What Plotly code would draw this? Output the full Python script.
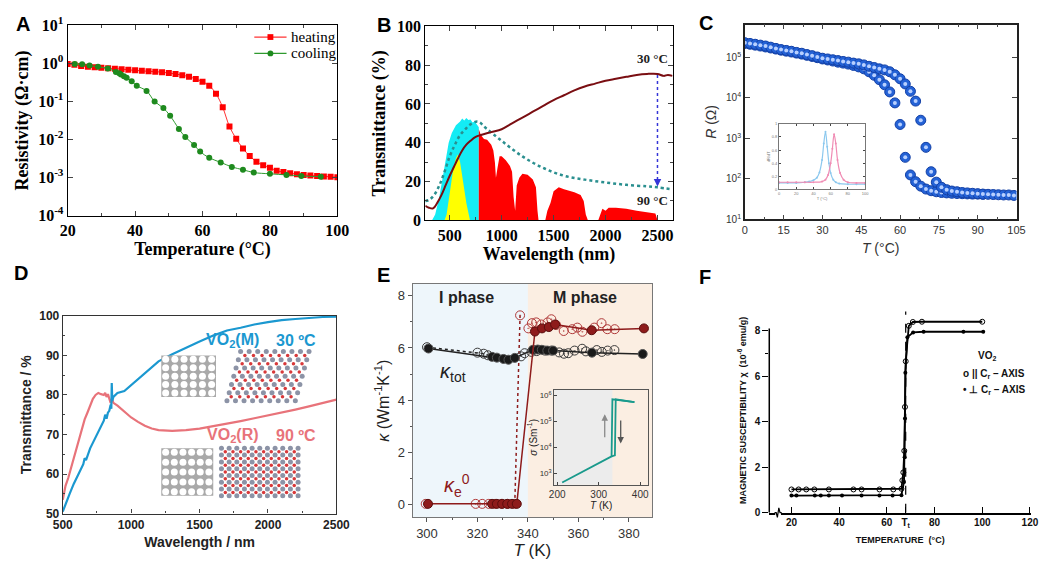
import plotly.graph_objects as go

W, H = 1052, 566


def px(x):
    return x / W


def py(y):
    return 1 - y / H


SERIF = "Liberation Serif"
SANS = "Liberation Sans"

# ---------------- A: resistivity vs temperature
a_T_heat = [20, 22, 24, 26, 28, 30, 32, 34, 36, 38, 40, 42, 44, 46, 48, 50, 52, 54, 56, 58,
            60, 62, 64, 66, 68, 70, 72, 74, 76, 78, 80, 82, 84, 86, 88, 90, 92, 94, 96, 98, 100]
a_rho_heat = [0.97, 0.92, 0.86, 0.82, 0.79, 0.77, 0.75, 0.73, 0.71, 0.68, 0.66, 0.64, 0.62, 0.61,
              0.59, 0.56, 0.53, 0.49, 0.45, 0.39, 0.33, 0.26, 0.16, 0.07, 0.022, 0.0105, 0.0058,
              0.0037, 0.0026, 0.0021, 0.0018, 0.0015, 0.0014, 0.0013, 0.00122, 0.00117, 0.00113,
              0.0011, 0.00107, 0.00104, 0.00102]
a_T_cool = [22.1, 24.3, 26.5, 29, 31.9, 34.3, 35.3, 35.8, 36.7, 37.5, 39, 40.5, 43.4, 45.8, 48.4,
            50.4, 53, 54.9, 57.5, 59.3, 62, 65.4, 68.7, 72, 75.2, 80, 84.9, 89.3, 95.1]
a_rho_cool = [0.97, 0.95, 0.88, 0.82, 0.74, 0.6, 0.55, 0.51, 0.46, 0.42, 0.34, 0.26, 0.19, 0.10,
              0.067, 0.042, 0.019, 0.0116, 0.0072, 0.0048, 0.0033, 0.0025, 0.0019, 0.0016,
              0.00135, 0.00125, 0.00117, 0.0011, 0.00105]
a_names = ["heating", "cooling"]

# ---------------- B: transmittance spectra + solar spectrum
b_wl_30 = [265, 300, 340, 380, 420, 460, 500, 540, 580, 620, 660, 700, 750, 800, 900, 1000, 1100,
           1200, 1300, 1400, 1500, 1600, 1700, 1800, 1900, 2000, 2100, 2200, 2300, 2400, 2500,
           2560, 2600, 2645]
b_T30 = [7.5, 6.5, 6.2, 9, 13, 18, 23, 27.5, 32, 36, 39, 41, 43, 44, 45.5, 47, 50, 53, 56, 59, 62,
         64.5, 67, 69, 70.5, 72, 73, 74, 75, 75.5, 75.5, 74.5, 75, 74.5]
b_wl_90 = [265, 300, 350, 400, 450, 500, 550, 600, 650, 700, 770, 850, 1000, 1200, 1400, 1600,
           1800, 2000, 2200, 2400, 2500, 2645]
b_T90 = [10, 10.5, 13, 18, 25, 33, 39, 44, 47, 49.5, 51, 47.5, 41, 33, 27, 23, 21, 19.5, 18.3,
         17.5, 17, 16]
b_wl_vis = [330, 360, 400, 430, 460, 490, 520, 560, 600, 620, 640, 660, 680, 700, 720, 740, 760, 780]
b_vis = [0, 3, 12, 22, 32, 40, 45, 49, 51, 52.5, 51.5, 52.8, 51.8, 52, 50.5, 51, 49.5, 48]
b_wl_lum = [450, 470, 500, 530, 560, 578, 600, 620, 640, 660, 680, 695]
b_lum = [0, 3, 14, 25, 32, 34, 30, 24, 16, 9, 3, 0]
b_wl_nir = [780, 800, 830, 860, 900, 920, 935, 945, 960, 980, 1000, 1040, 1080, 1100, 1115, 1130,
            1145, 1170, 1200, 1250, 1300, 1330, 1345, 1355, 1420, 1440, 1470, 1500, 1550, 1600,
            1700, 1760, 1790, 1810, 1830, 1930, 1950, 1970, 2000, 2030, 2100, 2200, 2300, 2400,
            2480, 2500]
b_nir = [47, 44, 42, 41.5, 39, 36, 30, 22, 27, 33, 33, 31, 28, 25, 12, 5, 18, 22, 24, 23.5, 21, 17,
         5, 0, 0, 5, 9, 15, 17, 16, 14.5, 13, 10, 3, 0, 0, 3, 6, 5, 6.5, 6.5, 6, 5, 4, 3.5, 0]

# ---------------- C: resistance hysteresis
c_T_heat = [0, 2, 4, 6, 8, 10, 12, 14, 16, 18, 20, 22, 24, 26, 28, 30, 32, 34, 36, 38, 40, 42, 44,
            46, 48, 50, 52, 54, 56, 58, 60, 62, 64, 66, 68, 70, 72, 74, 76, 78, 80, 82, 84, 86, 88,
            90, 92, 94, 96, 98, 100, 102, 104]
c_R_heat = [2.3e5, 2.2e5, 2.1e5, 2.0e5, 1.9e5, 1.78e5, 1.66e5, 1.55e5, 1.48e5, 1.41e5, 1.32e5,
            1.26e5, 1.17e5, 1.1e5, 1.02e5, 9.5e4, 9.1e4, 8.7e4, 8.3e4, 7.9e4, 7.6e4, 7.2e4, 6.9e4,
            6.5e4, 6.0e4, 5.6e4, 5.2e4, 4.9e4, 4.4e4, 3.7e4, 2.95e4, 2.2e4, 1.45e4, 8.3e3, 2.8e3,
            6.0e2, 1.5e2, 83, 62, 54, 50, 48, 46, 45, 44, 43, 42, 41.5, 41, 40.5, 40, 40, 39]
c_T_cool = [0, 2, 4, 6, 8, 10, 12, 14, 16, 18, 20, 22, 24, 26, 28, 30, 32, 34, 36, 38, 40, 42, 44,
            46, 48, 50, 52, 54, 56, 58, 60, 62, 64, 66, 68, 70, 72, 74, 76, 78, 80, 82, 84, 86, 88,
            90, 92]
c_R_cool = [2.2e5, 2.1e5, 2.0e5, 1.9e5, 1.8e5, 1.7e5, 1.6e5, 1.5e5, 1.42e5, 1.35e5, 1.27e5, 1.2e5,
            1.12e5, 1.05e5, 9.8e4, 9.1e4, 8.6e4, 8.1e4, 7.6e4, 7.2e4, 6.8e4, 6.3e4, 5.8e4, 5.2e4,
            4.4e4, 3.6e4, 2.8e4, 2.1e4, 1.4e4, 7.5e3, 2.2e3, 3.4e2, 1.25e2, 85, 66, 56, 51, 48, 46,
            45, 44, 43.5, 43, 42.5, 42, 42, 41.5]
# inset (derivative peaks)
ci_T_blue = [0, 10, 20, 30, 35, 40, 44, 47, 50, 52, 54, 56, 58, 60, 63, 66, 70, 80, 90, 100]
ci_blue = [0.10, 0.10, 0.10, 0.11, 0.12, 0.14, 0.18, 0.26, 0.45, 0.70, 0.88, 0.65, 0.40, 0.25,
           0.15, 0.11, 0.09, 0.08, 0.08, 0.08]
ci_T_pink = [0, 10, 20, 30, 40, 50, 54, 57, 60, 62, 64, 66, 68, 71, 75, 80, 90, 100]
ci_pink = [0.11, 0.11, 0.11, 0.11, 0.11, 0.12, 0.15, 0.22, 0.40, 0.62, 0.84, 0.70, 0.45, 0.25,
           0.15, 0.11, 0.10, 0.10]

# ---------------- D: VO2(M) / VO2(R) transmittance
d_wl_m = [500, 520, 550, 580, 600, 630, 650, 660, 670, 700, 730, 760, 780, 800, 810, 820, 830, 840,
          850, 855, 858, 862, 870, 900, 950, 1000, 1100, 1200, 1300, 1400, 1500, 1600, 1700, 1800,
          1900, 2000, 2100, 2200, 2300, 2400, 2500]
d_m = [50.5, 52.5, 55, 57.5, 59, 61, 62.5, 64, 63.5, 66.5, 68.5, 70.5, 72, 73.5, 75, 74, 75.5, 76,
       77.5, 76.5, 83, 78.5, 79.5, 80.5, 81, 82.5, 85.5, 88.5, 90.3, 92, 93.5, 95, 96.3, 97, 97.8,
       98.4, 98.9, 99.2, 99.5, 99.7, 99.8]
d_wl_r = [500, 520, 540, 560, 580, 600, 620, 640, 660, 680, 700, 720, 740, 760, 780, 800, 810, 820,
          830, 840, 850, 860, 870, 900, 950, 1000, 1050, 1100, 1150, 1200, 1300, 1400, 1500, 1600,
          1700, 1800, 1900, 2000, 2100, 2200, 2300, 2400, 2500]
d_r = [53.5, 57, 59, 61.5, 64, 66.5, 69, 72, 73.8, 75.5, 77.5, 79, 80, 80.5, 80.2, 80, 80.5, 79.5,
       80.2, 79, 78, 79, 78, 77.3, 75.9, 74.3, 73.2, 72.2, 71.5, 71.1, 70.9, 71.1, 71.5, 72.1, 72.7,
       73.4, 74.1, 74.8, 75.5, 76.3, 77.1, 78, 78.8]

# ---------------- E: thermal conductivity
e_T_tot = [300.6, 325.8, 327.7, 330.3, 332.3, 334.8, 342, 343.9, 345.5, 347.7, 350, 365.4, 385.5]
e_tot = [5.98, 5.66, 5.63, 5.58, 5.55, 5.62, 5.93, 5.94, 5.93, 5.9, 5.9, 5.82, 5.77]
e_T_tot_o = [300, 320, 322.5, 324.2, 337.3, 338.7, 341.4, 343.5, 346.7, 349.3, 352.4, 354.3, 356,
             358.5, 361.5, 363, 367.3, 369.3, 371.6, 374.3]
e_tot_o = [6.03, 5.82, 5.78, 5.72, 5.68, 5.8, 5.85, 5.88, 5.9, 5.9, 5.83, 5.78, 5.8, 5.9, 5.97,
           5.87, 5.92, 5.85, 5.9, 5.92]
e_T_el = [300.4, 325.8, 327.7, 329.8, 331.8, 333.7, 335.6, 342.8, 345.6, 348.3, 350.8, 365.3, 386]
e_el = [0.03, 0.03, 0.03, 0.03, 0.03, 0.03, 0.03, 6.63, 6.75, 6.8, 6.9, 6.68, 6.75]
e_T_el_o = [299.5, 319.3, 321.9, 324.5, 327, 329.5, 332, 334.8, 336.9, 340.2, 341.6, 343.3, 345.3,
            347.8, 349.3, 351.2, 354.2, 357.6, 359.6, 361.6, 366.3, 369.2, 371.5, 374.4]
e_el_o = [0.03, 0.03, 0.03, 0.03, 0.03, 0.03, 0.03, 0.03, 7.25, 6.75, 6.95, 6.98, 6.9, 6.98, 7.1,
          6.88, 6.65, 6.72, 6.78, 6.62, 6.78, 6.95, 6.72, 6.72]
# inset conductivity
ei_T_heat = [212, 331, 333, 386]
ei_s_heat = [4.6e2, 4.6e3, 7.0e5, 5.5e5]
ei_T_cool = [386, 341, 339, 331]
ei_s_cool = [5.5e5, 7.0e5, 5.0e3, 4.6e3]

# ---------------- F: magnetic susceptibility
f_T_par = [20, 23, 26.2, 29.6, 35.7, 46, 49.4, 56.9, 62.7, 66.1, 66.5, 66.9, 67.3, 67.6, 67.9, 69.2,
           70.9, 74.7, 100]
f_par = [1.02, 1.02, 1.02, 1.02, 1.02, 1.02, 1.02, 1.02, 1.02, 1.05, 1.42, 1.77, 2.72, 4.65, 6.66,
         8.22, 8.39, 8.4, 8.4]
f_T_perp = [20, 22.1, 29.8, 32.3, 35.7, 41.2, 49.4, 56.9, 62.4, 66.1, 67.2, 67.45, 67.6, 67.75,
            68.6, 71.0, 75.4, 92.1, 100.4]
f_perp = [0.75, 0.75, 0.75, 0.75, 0.75, 0.75, 0.75, 0.75, 0.75, 0.77, 1.35, 2.44, 4.14, 6.16, 7.72,
          7.93, 7.96, 7.96, 7.96]
f_Tt = 67.9

fig = go.Figure()

# ---- A traces
fig.add_trace(go.Scatter(x=a_T_heat, y=a_rho_heat, name=a_names[0], mode="lines+markers",
                         showlegend=False, line=dict(color="#ff3333", width=1, shape="spline"),
                         marker=dict(symbol="square", size=6, color="#ff0000"),
                         xaxis="x", yaxis="y"))
fig.add_trace(go.Scatter(x=a_T_cool, y=a_rho_cool, name=a_names[1], mode="lines+markers",
                         showlegend=False, line=dict(color="#2f9a2f", width=1, shape="spline"),
                         marker=dict(symbol="circle", size=6, color="#1e8a1e"),
                         xaxis="x", yaxis="y"))

# ---- B traces
fill_kw = dict(mode="lines", fill="tozeroy", line=dict(width=0), showlegend=False,
               xaxis="x2", yaxis="y2")
fig.add_trace(go.Scatter(x=b_wl_vis, y=b_vis, fillcolor="#14ecf4", **fill_kw))
fig.add_trace(go.Scatter(x=b_wl_lum, y=b_lum, fillcolor="#ffff00", **fill_kw))
fig.add_trace(go.Scatter(x=b_wl_nir, y=b_nir, fillcolor="#ff0000", **fill_kw))
fig.add_trace(go.Scatter(x=b_wl_90, y=b_T90, mode="lines", showlegend=False,
                         line=dict(color="#2a8f8f", width=2.5, dash="dot", shape="spline"),
                         xaxis="x2", yaxis="y2"))
fig.add_trace(go.Scatter(x=b_wl_30, y=b_T30, mode="lines", showlegend=False,
                         line=dict(color="#7a0e12", width=2, shape="spline"),
                         xaxis="x2", yaxis="y2"))

# ---- C traces
for tx, ry in [(c_T_cool, c_R_cool), (c_T_heat, c_R_heat)]:
    fig.add_trace(go.Scatter(x=tx, y=ry, mode="markers", showlegend=False,
                             marker=dict(size=10, color="#2462d6",
                                         line=dict(color="#1340a6", width=1)),
                             xaxis="x3", yaxis="y3"))
    fig.add_trace(go.Scatter(x=tx, y=ry, mode="markers", showlegend=False,
                             marker=dict(size=4, color="#b8d0ff"),
                             xaxis="x3", yaxis="y3"))
fig.add_trace(go.Scatter(x=ci_T_blue, y=ci_blue, mode="lines+markers", showlegend=False,
                         line=dict(color="#8cc8ee", width=1.2, shape="spline"),
                         marker=dict(size=2, color="#8cc8ee"), xaxis="x4", yaxis="y4"))
fig.add_trace(go.Scatter(x=ci_T_pink, y=ci_pink, mode="lines+markers", showlegend=False,
                         line=dict(color="#f08cb4", width=1.2, shape="spline"),
                         marker=dict(size=2, color="#f08cb4"), xaxis="x4", yaxis="y4"))

# ---- D traces
fig.add_trace(go.Scatter(x=d_wl_r, y=d_r, mode="lines", showlegend=False,
                         line=dict(color="#e8737a", width=2.2), xaxis="x5", yaxis="y5"))
fig.add_trace(go.Scatter(x=d_wl_m, y=d_m, mode="lines", showlegend=False,
                         line=dict(color="#1b98d0", width=2.2), xaxis="x5", yaxis="y5"))


# crystal-structure sketches (decoration) on an overlay axis
def grid(x0, x1, y0, y1, nx, ny, shear=0.0):
    xs, ys = [], []
    for j in range(ny):
        for i in range(nx):
            xs.append(x0 + (x1 - x0) * i / (nx - 1) + shear * j / (ny - 1))
            ys.append(y0 + (y1 - y0) * j / (ny - 1))
    return xs, ys


sketch_shapes = []
for (x0, x1, y0, y1) in [(0.36, 0.56, 0.59, 0.80), (0.36, 0.55, 0.09, 0.33)]:
    sketch_shapes.append(dict(type="rect", xref="x9", yref="y9", x0=x0, x1=x1, y0=y0, y1=y1,
                              fillcolor="#a9a9a9", line=dict(width=0), layer="below"))
    hx, hy = grid(x0 + 0.016, x1 - 0.016, y0 + 0.02, y1 - 0.02, 6, 5)
    fig.add_trace(go.Scatter(x=hx, y=hy, mode="markers", showlegend=False, hoverinfo="skip",
                             marker=dict(size=7, color="white"), xaxis="x9", yaxis="y9"))
for (x0, x1, y0, y1, sh, nx, ny) in [(0.60, 0.85, 0.57, 0.82, 0.05, 9, 7),
                                     (0.58, 0.86, 0.09, 0.33, 0.0, 11, 8)]:
    gx, gy = grid(x0, x1, y0, y1, nx, ny, sh)
    fig.add_trace(go.Scatter(x=gx, y=gy, mode="markers", showlegend=False, hoverinfo="skip",
                             marker=dict(size=5, color="#8c93a6"), xaxis="x9", yaxis="y9"))
    dx = (x1 - x0) / (nx - 1) / 2
    dy = (y1 - y0) / (ny - 1) / 2
    rx, ry = grid(x0 + dx, x1 - dx, y0 + dy, y1 - dy, nx - 1, ny - 1, sh)
    fig.add_trace(go.Scatter(x=rx, y=ry, mode="markers", showlegend=False, hoverinfo="skip",
                             marker=dict(size=3.5, color="#d8383a"), xaxis="x9", yaxis="y9"))

# ---- E traces
fig.add_trace(go.Scatter(x=e_T_tot_o[:5], y=e_tot_o[:5], mode="lines", showlegend=False,
                         line=dict(color="#222", width=1.5, dash="dot"), xaxis="x6", yaxis="y6"))
fig.add_trace(go.Scatter(x=e_T_el_o[7:9], y=e_el_o[7:9], mode="lines", showlegend=False,
                         line=dict(color="#8e1b1b", width=1.5, dash="dot"), xaxis="x6", yaxis="y6"))
fig.add_trace(go.Scatter(x=e_T_tot_o, y=e_tot_o, mode="markers", showlegend=False,
                         marker=dict(symbol="circle-open-dot", size=9, color="#3a3a3a",
                                     line=dict(color="#3a3a3a", width=1)),
                         xaxis="x6", yaxis="y6"))
fig.add_trace(go.Scatter(x=e_T_el_o, y=e_el_o, mode="markers", showlegend=False,
                         marker=dict(symbol="circle-open-dot", size=9, color="#b03a3a",
                                     line=dict(color="#b03a3a", width=1)),
                         xaxis="x6", yaxis="y6"))
fig.add_trace(go.Scatter(x=e_T_tot, y=e_tot, mode="lines+markers", showlegend=False,
                         line=dict(color="#222", width=1.5),
                         marker=dict(size=9, color="#1a1a1a", line=dict(color="#555", width=1)),
                         xaxis="x6", yaxis="y6"))
fig.add_trace(go.Scatter(x=e_T_el, y=e_el, mode="lines+markers", showlegend=False,
                         line=dict(color="#8e1b1b", width=1.5),
                         marker=dict(size=9, color="#8e1b1b", line=dict(color="#5a0e0e", width=1)),
                         xaxis="x6", yaxis="y6"))
fig.add_trace(go.Scatter(x=ei_T_heat, y=ei_s_heat, mode="lines", showlegend=False,
                         line=dict(color="#1a9a8c", width=1.8), xaxis="x7", yaxis="y7"))
fig.add_trace(go.Scatter(x=ei_T_cool, y=ei_s_cool, mode="lines", showlegend=False,
                         line=dict(color="#1a9a8c", width=1.8), xaxis="x7", yaxis="y7"))

# ---- F traces
fig.add_trace(go.Scatter(x=f_T_par, y=f_par, mode="lines+markers", showlegend=False,
                         line=dict(color="black", width=1.8),
                         marker=dict(symbol="circle-open", size=5, color="black",
                                     line=dict(width=1, color="black")),
                         xaxis="x8", yaxis="y8"))
fig.add_trace(go.Scatter(x=f_T_perp, y=f_perp, mode="lines+markers", showlegend=False,
                         line=dict(color="black", width=1.8),
                         marker=dict(size=4, color="black"), xaxis="x8", yaxis="y8"))

# ---------------- axes
def box(**kw):
    d = dict(showline=True, linecolor="black", linewidth=1, mirror="ticks", ticks="inside",
             zeroline=False, showgrid=False)
    d.update(kw)
    return d


serif_tick = dict(family=SERIF, size=16, color="black", weight="bold")
serif_title = dict(family=SERIF, size=18, color="black", weight="bold")

sup = lambda e: f"10<sup>{e}</sup>"

layout = dict(
    width=W, height=H, margin=dict(l=0, r=0, t=0, b=0), autosize=False,
    paper_bgcolor="white", plot_bgcolor="rgba(0,0,0,0)", showlegend=False,
    # A
    xaxis=box(domain=[px(59), px(335)], anchor="y", range=[20, 100], tickvals=[20, 40, 60, 80, 100],
              minor=dict(ticks="inside", dtick=10, ticklen=3), tickfont=serif_tick, ticklen=5,
              title=dict(text="Temperature (°C)", font=serif_title, standoff=4)),
    yaxis=box(domain=[py(212), py(15)], anchor="x", type="log", range=[-4, 1],
              tickvals=[1e-4, 1e-3, 1e-2, 1e-1, 1, 10], ticktext=[sup(e) for e in range(-4, 2)],
              tickfont=serif_tick, ticklen=5,
              title=dict(text="Resistivity (Ω·cm)", font=serif_title, standoff=4)),
    # B
    xaxis2=box(domain=[px(425), px(678)], anchor="y2", range=[265, 2645],
               tickvals=[500, 1000, 1500, 2000, 2500], minor=dict(ticks="inside", dtick=250, ticklen=3),
               tickfont=serif_tick, ticklen=5,
               title=dict(text="Wavelength (nm)", font=serif_title, standoff=4)),
    yaxis2=box(domain=[py(217), py(16)], anchor="x2", range=[0, 100], dtick=20,
               minor=dict(ticks="inside", dtick=10, ticklen=3), tickfont=serif_tick, ticklen=5,
               title=dict(text="Transmittance (%)", font=serif_title, standoff=6)),
    # C
    xaxis3=box(domain=[px(752), px(1030)], anchor="y3", range=[0, 105], dtick=15,
               linecolor="#222", linewidth=1.5,
               minor=dict(ticks="inside", dtick=7.5, ticklen=3),
               tickfont=dict(family=SANS, size=11, color="#333"), ticklen=5,
               title=dict(text="<i>T</i> (°C)", font=dict(family=SANS, size=14, color="#333"),
                          standoff=8)),
    yaxis3=box(domain=[py(216), py(14)], anchor="x3", type="log", range=[1, 5.81],
               linecolor="#222", linewidth=1.5,
               tickvals=[10, 1e2, 1e3, 1e4, 1e5], ticktext=[sup(e) for e in range(1, 6)],
               tickfont=dict(family=SANS, size=10, color="#333"), ticklen=5,
               title=dict(text="<i>R</i> (Ω)", font=dict(family=SANS, size=14, color="#333"),
                          standoff=6)),
    xaxis4=box(domain=[px(787), px(875)], anchor="y4", range=[0, 100], dtick=20,
               linecolor="#777", ticklen=2, tickfont=dict(family=SANS, size=4, color="#777"),
               title=dict(text="T (°C)", font=dict(family=SANS, size=4, color="#777"), standoff=1)),
    yaxis4=box(domain=[py(185), py(117)], anchor="x4", range=[0, 1.0], dtick=0.2,
               linecolor="#777", ticklen=2, tickfont=dict(family=SANS, size=4, color="#777"),
               title=dict(text="dR/dT", font=dict(family=SANS, size=4, color="#777"), standoff=1)),
    # D
    xaxis5=dict(domain=[px(54), px(334)], anchor="y5", range=[500, 2500], dtick=500,
                showline=True, mirror=True, linecolor="#333", linewidth=1.2, ticks="inside",
                ticklen=4, showgrid=False, zeroline=False,
                minor=dict(ticks="inside", dtick=250, ticklen=2),
                tickfont=dict(family=SANS, size=12, color="#222", weight="bold"),
                title=dict(text="Wavelength / nm", standoff=6,
                           font=dict(family=SANS, size=14, color="#222", weight="bold"))),
    yaxis5=dict(domain=[py(521), py(316)], anchor="x5", range=[50, 100], dtick=10,
                showline=True, mirror=True, linecolor="#333", linewidth=1.2, ticks="inside",
                ticklen=4, showgrid=False, zeroline=False,
                minor=dict(ticks="inside", dtick=5, ticklen=2),
                tickfont=dict(family=SANS, size=12, color="#222", weight="bold"),
                title=dict(text="Transmittance / %", standoff=4,
                           font=dict(family=SANS, size=14, color="#222", weight="bold"))),
    xaxis9=dict(domain=[px(54), px(334)], anchor="y9", range=[0, 1], visible=False),
    yaxis9=dict(domain=[py(521), py(316)], anchor="x9", range=[0, 1], visible=False),
    # E
    xaxis6=dict(domain=[px(412), px(657)], anchor="y6", range=[294.3, 389.2],
                tickvals=[300, 320, 340, 360, 380], showline=True, mirror=True, linecolor="#777",
                ticks="outside", ticklen=4, tickcolor="#555", showgrid=False, zeroline=False,
                minor=dict(ticks="outside", dtick=10, ticklen=2),
                tickfont=dict(family=SANS, size=13, color="#333"),
                title=dict(text="<i>T</i> (K)", standoff=2,
                           font=dict(family=SANS, size=17, color="#222"))),
    yaxis6=dict(domain=[py(525), py(283)], anchor="x6", range=[-0.49, 8.45], dtick=2,
                showline=True, mirror=True, linecolor="#777", ticks="outside", ticklen=4,
                tickcolor="#555", showgrid=False, zeroline=False,
                minor=dict(ticks="outside", dtick=1, ticklen=2),
                tickfont=dict(family=SANS, size=13, color="#333"),
                title=dict(text="<i>κ</i> (Wm<sup>-1</sup>K<sup>-1</sup>)", standoff=4,
                           font=dict(family=SANS, size=16, color="#222"))),
    xaxis7=dict(domain=[px(557), px(653)], anchor="y7", range=[193, 419],
                tickvals=[200, 300, 400], showline=True, mirror=True, linecolor="#555",
                ticks="inside", ticklen=3, showgrid=False, zeroline=False,
                tickfont=dict(family=SANS, size=10, color="#333"),
                title=dict(text="<i>T</i> (K)", standoff=0,
                           font=dict(family=SANS, size=10, color="#222"))),
    yaxis7=dict(domain=[py(491), py(393)], anchor="x7", type="log", range=[2.58, 6.2],
                tickvals=[1e3, 1e4, 1e5, 1e6], ticktext=[sup(e) for e in range(3, 7)],
                showline=True, mirror=True, linecolor="#555", ticks="inside", ticklen=3,
                showgrid=False, zeroline=False,
                tickfont=dict(family=SANS, size=8, color="#333"),
                title=dict(text="<i>σ</i> (Sm<sup>-1</sup>)", standoff=0,
                           font=dict(family=SANS, size=10, color="#222"))),
    # F
    xaxis8=dict(domain=[px(777), px(1045)], anchor="y8", range=[10.7, 120.5],
                tickvals=[20, 40, 60, f_Tt, 80, 100, 120],
                ticktext=["20", "40", "60", "T<sub>t</sub>", "80", "100", "120"],
                showline=True, linecolor="black", linewidth=1.5, ticks="inside", ticklen=6,
                tickcolor="black", tickwidth=1.3, showgrid=False, zeroline=False,
                tickfont=dict(family=SANS, size=10, color="#111", weight="bold"),
                title=dict(text="TEMPERATURE  (°C)", standoff=8,
                           font=dict(family=SANS, size=9, color="#111", weight="bold"))),
    yaxis8=dict(domain=[py(520), py(308)], anchor="x8", range=[0, 9],
                tickvals=[0, 2, 4, 6, 8], showline=False, ticks="outside", ticklen=6,
                tickcolor="black", tickwidth=1.3, showgrid=False, zeroline=False,
                minor=dict(ticks="outside", tickvals=[7], ticklen=3, tickcolor="black"),
                tickfont=dict(family=SANS, size=10, color="#111", weight="bold"),
                title=dict(text="MAGNETIC SUSCEPTIBILITY χ  (10<sup>-6</sup> emu/g)", standoff=6,
                           font=dict(family=SANS, size=9, color="#111", weight="bold"))),
)

# legend of panel A drawn by hand (sample line + marker + label)
legend_rows = [(27, "#ff3333", "#ff0000", "rect"), (44, "#2f9a2f", "#1e8a1e", "circle")]
legend_shapes = []
for yy, lc, mc, kind in legend_rows:
    legend_shapes.append(dict(type="line", xref="paper", yref="paper", x0=px(250), x1=px(283),
                              y0=py(yy), y1=py(yy), line=dict(color=lc, width=1.2)))
    legend_shapes.append(dict(type=kind, xref="paper", yref="paper", x0=px(263.5), x1=px(269.5),
                              y0=py(yy + 3), y1=py(yy - 3), fillcolor=mc, line=dict(width=0)))

shapes = [
    # E phase shading
    dict(type="rect", xref="x6", yref="y6 domain", x0=294.3, x1=340, y0=0, y1=1,
         fillcolor="#eef6fb", line=dict(width=0), layer="below"),
    dict(type="rect", xref="x6", yref="y6 domain", x0=340, x1=389.2, y0=0, y1=1,
         fillcolor="#fbeee2", line=dict(width=0), layer="below"),
    dict(type="rect", xref="x7", yref="y7 domain", x0=193, x1=333, y0=0, y1=1,
         fillcolor="#ececec", line=dict(width=0), layer="below"),
    # B arrow 30 -> 90 C
    dict(type="line", xref="x2", yref="y2", x0=2500, x1=2500, y0=75, y1=19,
         line=dict(color="#3535d8", width=1.5, dash="dot")),
    # F: y axis line, Tt dashed line, axis break
    dict(type="line", xref="x8 domain", yref="y8", x0=0, x1=0, y0=0, y1=8.1,
         line=dict(color="black", width=1.5)),
    dict(type="line", xref="x8", yref="y8", x0=f_Tt, x1=f_Tt, y0=0, y1=8.85,
         line=dict(color="black", width=1.2, dash="dash")),
    dict(type="rect", xref="x8", yref="paper", x0=13.2, x1=15.6, y0=py(523), y1=py(517),
         fillcolor="white", line=dict(width=0), layer="above"),
    dict(type="path", xref="x8", yref="paper", layer="above",
         path=f"M 12.9,{py(520)} L 13.6,{py(520)} L 14.1,{py(525)} L 14.7,{py(515)} "
              f"L 15.2,{py(520)} L 15.9,{py(520)}",
         line=dict(color="black", width=1.2)),
] + sketch_shapes + legend_shapes
layout["shapes"] = shapes

letter_font = dict(family=SANS, size=20, color="black", weight="bold")
ann = []
for lab, x, y in [("A", 13, 13), ("B", 383, 14), ("C", 712, 12),
                  ("D", 11, 272), ("E", 382, 274), ("F", 711, 276)]:
    ann.append(dict(text=lab, x=px(x), y=py(y), xref="paper", yref="paper", showarrow=False,
                    font=letter_font, xanchor="center", yanchor="middle"))
for (yy, _, _, _), name in zip(legend_rows, a_names):
    ann.append(dict(text=name, x=px(286), y=py(yy), xref="paper", yref="paper", showarrow=False,
                    xanchor="left", yanchor="middle",
                    font=dict(family=SERIF, size=15, color="black")))

bfont = dict(family=SERIF, size=13, color="#222", weight="bold")
ann += [
    dict(text="30 °C", x=2453, y=83.4, xref="x2", yref="y2", showarrow=False, font=bfont),
    dict(text="90 °C", x=2453, y=10.3, xref="x2", yref="y2", showarrow=False, font=bfont),
    dict(text="", x=2500, y=17.5, ax=2500, ay=22, xref="x2", yref="y2", axref="x2", ayref="y2",
         showarrow=True, arrowhead=2, arrowsize=1, arrowwidth=1.5, arrowcolor="#3535d8"),
]
dblue = dict(family=SANS, size=16, color="#1b98d0", weight="bold")
dpink = dict(family=SANS, size=16, color="#e8737a", weight="bold")
ann += [
    dict(text="VO<sub>2</sub>(M)", x=1743, y=93.7, xref="x5", yref="y5", showarrow=False, font=dblue),
    dict(text="30 ºC", x=2207, y=93.7, xref="x5", yref="y5", showarrow=False, font=dblue),
    dict(text="VO<sub>2</sub>(R)", x=1743, y=69.7, xref="x5", yref="y5", showarrow=False, font=dpink),
    dict(text="90 ºC", x=2207, y=69.7, xref="x5", yref="y5", showarrow=False, font=dpink),
]
ephase = dict(family=SANS, size=16, color="#222", weight="bold")
ann += [
    dict(text="I phase", x=315.5, y=7.95, xref="x6", yref="y6", showarrow=False, font=ephase),
    dict(text="M phase", x=362.6, y=7.95, xref="x6", yref="y6", showarrow=False, font=ephase),
    dict(text="<i>κ</i><sub>tot</sub>", x=310.2, y=5.05, xref="x6", yref="y6", showarrow=False,
         font=dict(family=SANS, size=20, color="#222")),
    dict(text="<i>κ</i><sub>e</sub><sup>0</sup>", x=311.8, y=0.72, xref="x6", yref="y6",
         showarrow=False, font=dict(family=SANS, size=20, color="#8e1b1b")),
    dict(text="", x=314.5, y=5.28, ax=314.5, ay=4.34, xref="x7", yref="y7", axref="x7",
         ayref="y7", showarrow=True, arrowhead=2, arrowwidth=1.3, arrowcolor="#8a8a8a"),
    dict(text="", x=353, y=4.16, ax=353, ay=5.09, xref="x7", yref="y7", axref="x7",
         ayref="y7", showarrow=True, arrowhead=2, arrowwidth=1.3, arrowcolor="#555"),
]
ffont = dict(family=SANS, size=10, color="#111", weight="bold")
ann += [
    dict(text="VO<sub>2</sub>", x=px(1000), y=py(358), xref="paper", yref="paper",
         showarrow=False, font=ffont, xanchor="center", yanchor="middle"),
    dict(text="o || C<sub>r</sub> – AXIS", x=px(973), y=py(376), xref="paper", yref="paper",
         showarrow=False, font=ffont, xanchor="left", yanchor="middle"),
    dict(text="• ⊥ C<sub>r</sub> – AXIS", x=px(973), y=py(393), xref="paper", yref="paper",
         showarrow=False, font=ffont, xanchor="left", yanchor="middle"),
]
layout["annotations"] = ann

fig.update_layout(**layout)
fig.write_html("out.html", config={"displayModeBar": False},
               post_script="document.body.style.margin='0';")
